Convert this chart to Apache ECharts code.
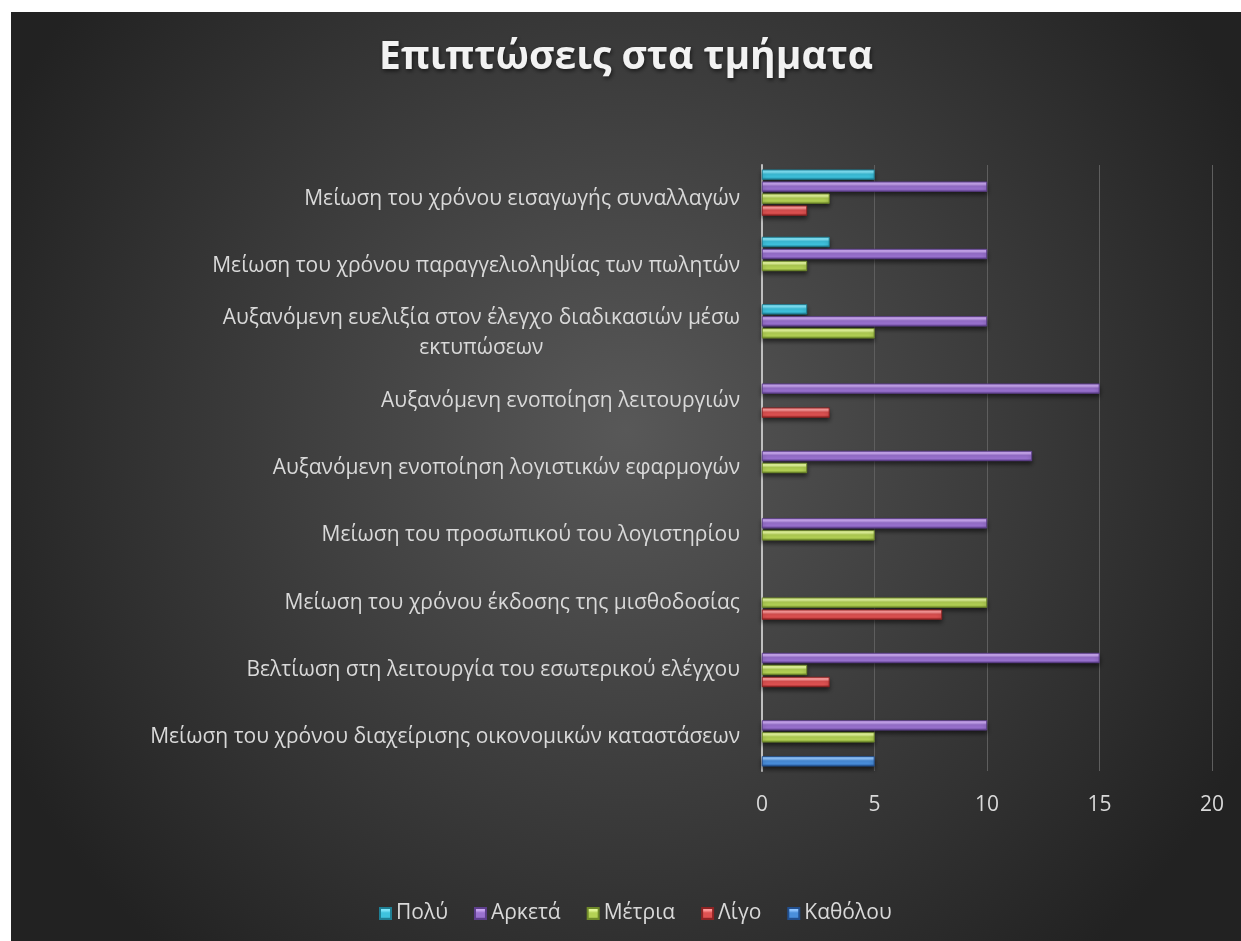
<!DOCTYPE html>
<html>
<head>
<meta charset="utf-8">
<script src="https://cdn.jsdelivr.net/npm/echarts@6/dist/echarts.min.js"></script>
<style>
  html, body { margin: 0; padding: 0; background: #ffffff; }
  #chart { position: absolute; left: 11px; top: 12px; width: 1230px; height: 929px; }
</style>
</head>
<body>
<div id="chart"></div>
<script>
// Categories, listed bottom to top along the vertical axis
const categories = [
  'Μείωση του χρόνου διαχείρισης οικονομικών καταστάσεων',
  'Βελτίωση στη λειτουργία του εσωτερικού ελέγχου',
  'Μείωση του χρόνου έκδοσης της μισθοδοσίας',
  'Μείωση του προσωπικού του λογιστηρίου',
  'Αυξανόμενη ενοποίηση λογιστικών εφαρμογών',
  'Αυξανόμενη ενοποίηση λειτουργιών',
  'Αυξανόμενη ευελιξία στον έλεγχο διαδικασιών μέσω\nεκτυπώσεων',
  'Μείωση του χρόνου παραγγελιοληψίας των πωλητών',
  'Μείωση του χρόνου εισαγωγής συναλλαγών'
];

const seriesNames = ['Πολύ', 'Αρκετά', 'Μέτρια', 'Λίγο', 'Καθόλου'];
const poly     = [0, 0, 0, 0, 0, 0, 2, 3, 5];
const arketa   = [10, 15, 0, 10, 12, 15, 10, 10, 10];
const metria   = [5, 2, 10, 5, 2, 0, 5, 2, 3];
const ligo     = [0, 3, 8, 0, 0, 3, 0, 0, 2];
const katholou = [5, 0, 0, 0, 0, 0, 0, 0, 0];

const xTicks = [0, 5, 10, 15, 20];

// light / base / dark shades per series for the bevelled bar look
const palette = [
  ['#7fe6fa', '#3ec3de', '#1f7f94'],
  ['#c9a6f2', '#9a72d0', '#5e3f8c'],
  ['#e4f79a', '#b4d255', '#6f8a2a'],
  ['#ff9a9a', '#e05252', '#8e2424'],
  ['#8fc4ff', '#4a8fdc', '#224f8e']
];

function bevel(c) {
  return new echarts.graphic.LinearGradient(0, 0, 0, 1, [
    { offset: 0, color: c[0] },
    { offset: 0.25, color: c[0] },
    { offset: 0.45, color: c[1] },
    { offset: 0.75, color: c[1] },
    { offset: 1, color: c[2] }
  ]);
}

const values = [poly, arketa, metria, ligo, katholou];

const chart = echarts.init(document.getElementById('chart'));

const labelRich = { c: { align: 'center', fontSize: 21, color: '#d9d9d9', fontFamily: 'Open Sans', lineHeight: 30 } };

chart.setOption({
  backgroundColor: new echarts.graphic.RadialGradient(0.5, 0.45, 0.75, [
    { offset: 0, color: '#585858' },
    { offset: 1, color: '#222222' }
  ]),
  title: {
    text: 'Επιπτώσεις στα τμήματα',
    left: 'center',
    top: 21,
    textStyle: {
      color: '#f2f2f2',
      fontFamily: 'Open Sans',
      fontWeight: 'bold',
      fontSize: 39,
      textShadowColor: 'rgba(0,0,0,0.6)',
      textShadowBlur: 4,
      textShadowOffsetX: 1,
      textShadowOffsetY: 2
    }
  },
  legend: {
    bottom: 12,
    left: 363,
    itemWidth: 11,
    itemHeight: 11,
    itemGap: 26,
    icon: 'rect',
    textStyle: { color: '#d9d9d9', fontSize: 21, fontFamily: 'Open Sans', padding: [0, 0, 0, 0] },
    data: seriesNames
  },
  grid: {
    left: 751,
    right: 29,
    top: 153,
    bottom: 170,
    containLabel: false
  },
  xAxis: {
    type: 'value',
    min: xTicks[0],
    max: xTicks[xTicks.length - 1],
    interval: 5,
    axisLine: { show: false },
    axisTick: { show: false },
    splitLine: { show: true, lineStyle: { color: '#5e5e5e', width: 1 } },
    axisLabel: { color: '#d9d9d9', fontSize: 21, fontFamily: 'Open Sans', margin: 24 }
  },
  yAxis: {
    type: 'category',
    data: categories,
    axisLine: { show: true, lineStyle: { color: '#bfbfbf', width: 2 } },
    axisTick: { show: false },
    axisLabel: {
      margin: 22,
      formatter: function (v) {
        return v.split('\n').map(function (s) { return '{c|' + s + '}'; }).join('\n');
      },
      rich: labelRich
    }
  },
  series: seriesNames.map(function (name, i) {
    return {
      name: name,
      type: 'bar',
      // zero answers draw no bar
      data: values[i].map(function (v) { return v === 0 ? '-' : v; }),
      barWidth: 10,
      barGap: '20%',
      itemStyle: {
        color: bevel(palette[i]),
        borderColor: palette[i][2],
        borderWidth: 0.6,
        shadowColor: 'rgba(0,0,0,0.55)',
        shadowBlur: 4,
        shadowOffsetY: 3
      }
    };
  })
});
</script>
</body>
</html>
